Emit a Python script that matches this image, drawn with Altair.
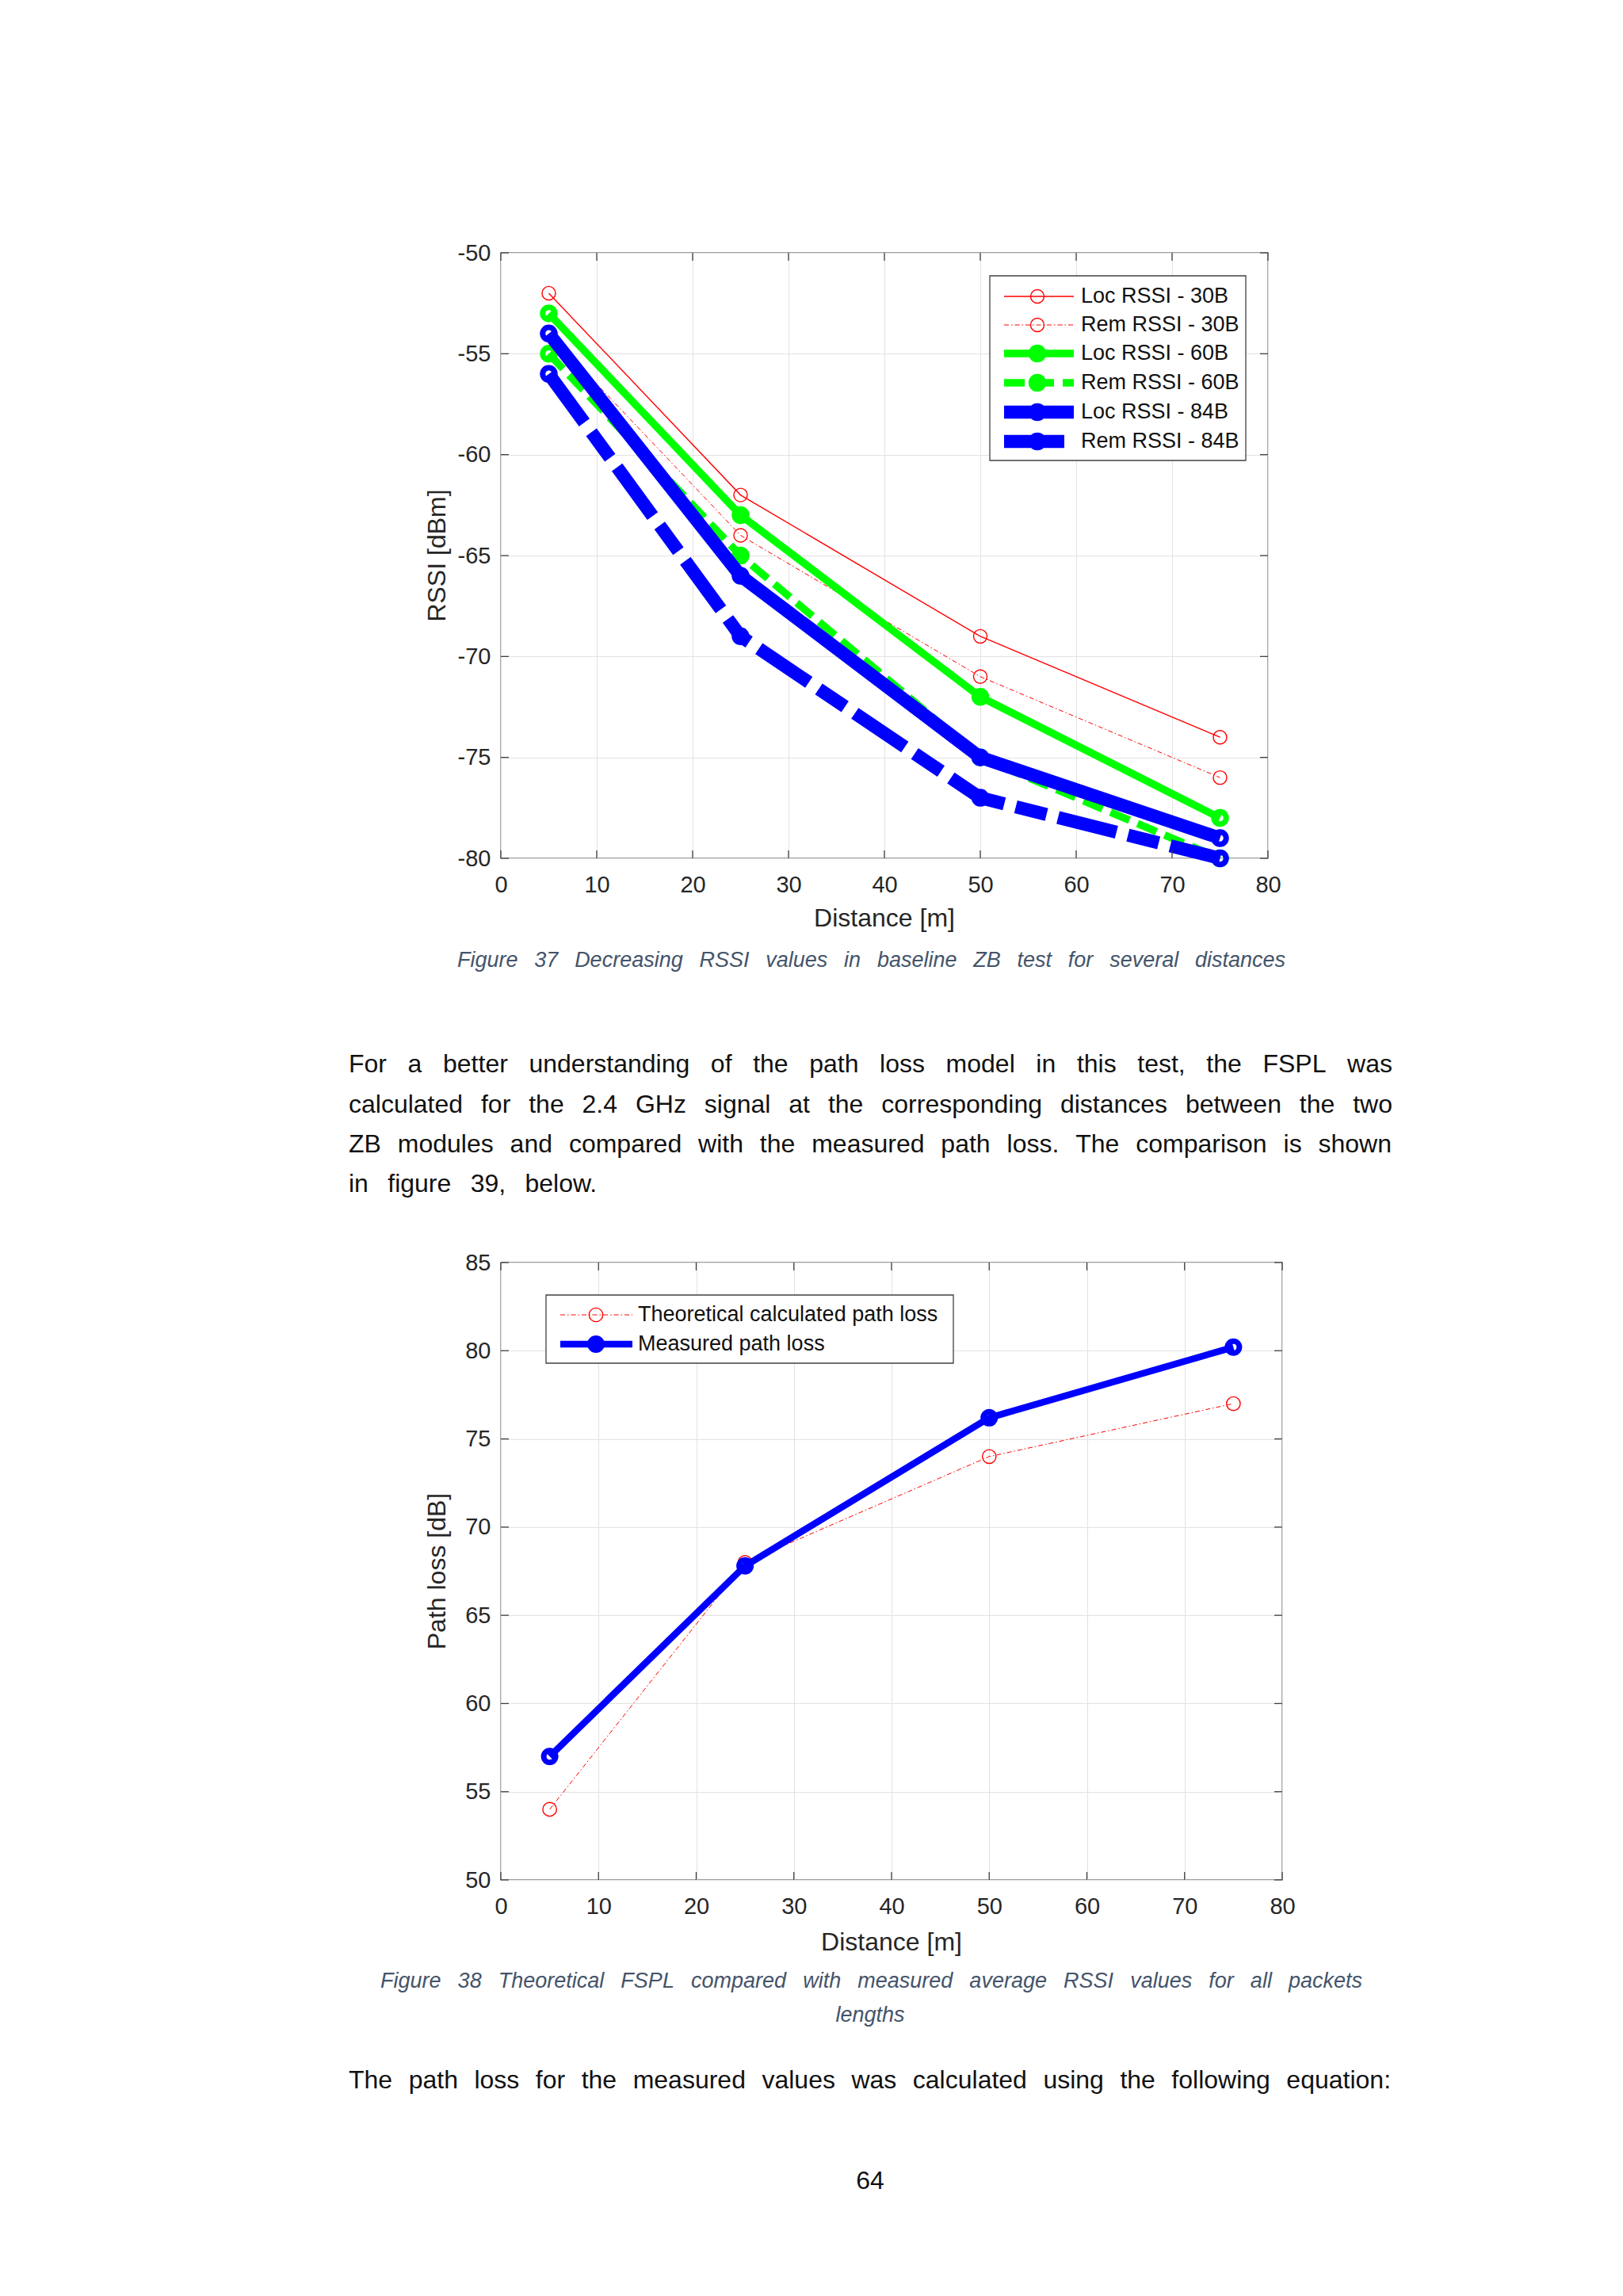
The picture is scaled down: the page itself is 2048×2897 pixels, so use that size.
import altair as alt
import pandas as pd

# ---------------- data ----------------
distance = [5, 25, 50, 75]

loc_rssi_30b = [-52, -62, -69, -74]
rem_rssi_30b = [-54, -64, -71, -76]
loc_rssi_60b = [-53, -63, -72, -78]
rem_rssi_60b = [-55, -65, -75, -80]
loc_rssi_84b = [-54, -66, -75, -79]
rem_rssi_84b = [-56, -69, -77, -80]
rssi_series = [loc_rssi_30b, rem_rssi_30b, loc_rssi_60b, rem_rssi_60b, loc_rssi_84b, rem_rssi_84b]
rssi_labels = ["Loc RSSI - 30B", "Rem RSSI - 30B", "Loc RSSI - 60B",
               "Rem RSSI - 60B", "Loc RSSI - 84B", "Rem RSSI - 84B"]

theoretical_path_loss = [54, 68, 74, 77]
measured_path_loss = [57, 67.8, 76.2, 80.2]
path_loss_series = [theoretical_path_loss, measured_path_loss]
path_loss_labels = ["Theoretical calculated path loss", "Measured path loss"]

x_ticks = [0, 10, 20, 30, 40, 50, 60, 70, 80]
rssi_ticks = [-80, -75, -70, -65, -60, -55, -50]
path_loss_ticks = [50, 55, 60, 65, 70, 75, 80, 85]

x_title = "Distance [m]"
rssi_title = "RSSI [dBm]"
path_loss_title = "Path loss [dB]"
caption_37 = "Figure 37 Decreasing RSSI values in baseline ZB test for several distances"
paragraph_lines = [
    "For a better understanding of the path loss model in this test, the FSPL was",
    "calculated for the 2.4 GHz signal at the corresponding distances between the two",
    "ZB modules and compared with the measured path loss. The comparison is shown",
    "in figure 39, below.",
]
caption_38_lines = [
    "Figure 38 Theoretical FSPL compared with measured average RSSI values for all packets",
    "lengths",
]
equation_intro = "The path loss for the measured values was calculated using the following equation:"
page_number = "64"

# ---------------- styles & layout ----------------
FONT = "Liberation Sans"
AX_TEXT = "#262626"
FRAME = "#404040"
GRID = "#e2e2e2"
BODY = "#111111"
CAPTION = "#44546A"
RED, GREEN, BLUE = "#ff0000", "#00ff00", "#0000ff"
LABEL_FS = 29
TITLE_FS = 32

rssi_styles = [
    dict(color=RED, width=1.4, dash=None, msize=290, mwidth=1.4),
    dict(color=RED, width=1.0, dash=[6, 3, 1.5, 3], msize=290, mwidth=1.4),
    dict(color=GREEN, width=9.5, dash=None, msize=240, mwidth=7.0),
    dict(color=GREEN, width=9.5, dash=[26, 11], msize=240, mwidth=7.0),
    dict(color=BLUE, width=16.5, dash=None, msize=240, mwidth=7.0),
    dict(color=BLUE, width=16.5, dash=[76, 15, 40, 15], msize=240, mwidth=7.0),
]
path_loss_styles = [
    dict(color=RED, width=1.0, dash=[6, 3, 1.5, 3], msize=300, mwidth=1.4),
    dict(color=BLUE, width=8.5, dash=None, msize=225, mwidth=7.0),
]

X0 = 631                      # common plot left (page px)
Y1, W1, H1 = 318, 968, 764    # chart 1 plot top / size
Y2, W2, H2 = 1590, 986, 779   # chart 2 plot top / size
TICK = 10

ARIAL = {' ': 278, ',': 278, '-': 333, '.': 278, ':': 278, '[': 278, ']': 278}
for ch in "0123456789":
    ARIAL[ch] = 556
ARIAL.update(dict(zip("ABCDEFGHIJKLMNOPQRSTUVWXYZ",
                      [667, 667, 722, 722, 667, 611, 778, 722, 278, 500, 667, 556, 833,
                       722, 778, 667, 778, 722, 667, 611, 722, 667, 944, 667, 667, 611])))
ARIAL.update(dict(zip("abcdefghijklmnopqrstuvwxyz",
                      [556, 556, 500, 556, 556, 278, 556, 556, 222, 222, 500, 222, 833,
                       556, 556, 556, 556, 333, 500, 278, 556, 500, 722, 500, 500, 500])))


def word_width(w, fs):
    return sum(ARIAL.get(c, 556) for c in w) * fs / 1000.0


def justify(line, left, right, fs, y, ox, oy):
    words = line.split(" ")
    widths = [word_width(w, fs) for w in words]
    gap = (right - left - sum(widths)) / max(1, len(words) - 1)
    rows, x = [], left
    for w, wd in zip(words, widths):
        rows.append((w, x - ox, y - oy))
        x += wd + gap
    return rows


def text_layer(rows, size, color=BODY, italic=False, align="left",
               baseline="alphabetic", angle=None, opacity=1.0):
    df = pd.DataFrame(rows, columns=["t", "px", "py"])
    kw = dict(font=FONT, fontSize=size, color=color, align=align,
              baseline=baseline, opacity=opacity)
    if italic:
        kw["fontStyle"] = "italic"
    if angle is not None:
        kw["angle"] = angle
    return alt.Chart(df).mark_text(**kw).encode(
        x=alt.X("px:Q", scale=None, axis=None),
        y=alt.Y("py:Q", scale=None, axis=None),
        text="t:N",
    )


def axis(vals, pad):
    return alt.Axis(values=vals, title=None, grid=True, gridColor=GRID, gridWidth=1,
                    ticks=False, domain=False, labelFont=FONT, labelFontSize=LABEL_FS,
                    labelColor=AX_TEXT, labelPadding=pad, labelFlush=False,
                    labelExpr="'' + datum.value")


DUMMY = pd.DataFrame({"k": [0]})


def build_panel(series, styles, labels, ydom, yticks, W, H, legend):
    X = alt.X("d:Q", scale=alt.Scale(domain=[0, 80], nice=False, zero=False),
              axis=axis(x_ticks, 19))
    Y = alt.Y("v:Q", scale=alt.Scale(domain=ydom, nice=False, zero=False),
              axis=axis(yticks, 13))
    layers = []
    for vals, st in zip(series, styles):
        df = pd.DataFrame({"d": distance, "v": vals})
        lkw = dict(color=st["color"], strokeWidth=st["width"])
        if st["dash"]:
            lkw["strokeDash"] = st["dash"]
        layers.append(alt.Chart(df).mark_line(**lkw).encode(x=X, y=Y))
        layers.append(alt.Chart(df).mark_point(
            shape="circle", filled=False, size=st["msize"], strokeWidth=st["mwidth"],
            color=st["color"], opacity=1).encode(x=X, y=Y))
    # inward ticks on all four sides
    xt = pd.DataFrame({"d": x_ticks})
    yt = pd.DataFrame({"v": yticks})
    tk = dict(color=FRAME, strokeWidth=1.3)
    layers.append(alt.Chart(xt).mark_rule(**tk).encode(x=X, y=alt.value(H), y2=alt.value(H - TICK)))
    layers.append(alt.Chart(xt).mark_rule(**tk).encode(x=X, y=alt.value(0), y2=alt.value(TICK)))
    layers.append(alt.Chart(yt).mark_rule(**tk).encode(y=Y, x=alt.value(0), x2=alt.value(TICK)))
    layers.append(alt.Chart(yt).mark_rule(**tk).encode(y=Y, x=alt.value(W), x2=alt.value(W - TICK)))
    # legend box
    L, T, R, B = legend["box"]
    layers.append(alt.Chart(DUMMY).mark_rect(fill="white", stroke=FRAME, strokeWidth=1.3).encode(
        x=alt.value(L), x2=alt.value(R), y=alt.value(T), y2=alt.value(B)))
    x1, x2 = legend["line"]
    for ry, st in zip(legend["rows"], styles):
        rkw = dict(color=st["color"], strokeWidth=st["width"])
        if st["dash"]:
            rkw["strokeDash"] = st["dash"]
        layers.append(alt.Chart(DUMMY).mark_rule(**rkw).encode(
            x=alt.value(x1), x2=alt.value(x2), y=alt.value(ry)))
        layers.append(alt.Chart(DUMMY).mark_point(
            shape="circle", filled=False, size=st["msize"], strokeWidth=st["mwidth"],
            color=st["color"], opacity=1).encode(x=alt.value(legend["marker"]), y=alt.value(ry)))
    layers.append(text_layer([(lab, legend["text"], ry) for lab, ry in zip(labels, legend["rows"])],
                             27, color="#111111", baseline="middle"))
    return layers


# ---------------- chart 1 ----------------
ref1x = 635
leg1 = dict(box=(1252 - ref1x, 347 - Y1, 1575 - ref1x, 580 - Y1),
            rows=[r - Y1 for r in [373, 409, 445, 482, 519, 556]],
            line=(1270 - ref1x, 1358 - ref1x), marker=1312 - ref1x, text=1367 - ref1x)
layers1 = build_panel(rssi_series, rssi_styles, rssi_labels, [-80, -50], rssi_ticks, W1, H1, leg1)
layers1.append(text_layer([(x_title, W1 / 2, 1168 - Y1)], TITLE_FS, color=AX_TEXT, align="center"))
layers1.append(text_layer([(rssi_title, 551 - X0, H1 / 2)], TITLE_FS, color=AX_TEXT, align="center",
                          baseline="middle", angle=270))
layers1.append(text_layer(justify(caption_37, 576, 1621, 27, 1219, X0, Y1), 27,
                          color=CAPTION, italic=True))
para_rows = []
for line, base, right in zip(paragraph_lines, [1352, 1403, 1453, 1503], [1756, 1756, 1755, 754]):
    para_rows += justify(line, 439, right, 32, base, X0, Y1)
layers1.append(text_layer(para_rows, 32))
# invisible anchors fixing the page position of the panel
layers1.append(text_layer([(".", 8 - X0, 8 - Y1)], 10, baseline="top", opacity=0))
layers1.append(text_layer([(".", 8 - X0, 1540 - Y1)], 10, baseline="bottom", opacity=0))
chart1 = alt.layer(*layers1).properties(width=W1, height=H1)

# ---------------- chart 2 ----------------
ref2x = 627
leg2 = dict(box=(684 - ref2x, 1631 - Y2, 1198 - ref2x, 1717 - Y2),
            rows=[1656 - Y2, 1693 - Y2],
            line=(702 - ref2x, 793 - ref2x), marker=747 - ref2x, text=800 - ref2x)
layers2 = build_panel(path_loss_series, path_loss_styles, path_loss_labels, [50, 85],
                      path_loss_ticks, W2, H2, leg2)
layers2.append(text_layer([(x_title, W2 / 2, 2458 - Y2)], TITLE_FS, color=AX_TEXT, align="center"))
layers2.append(text_layer([(path_loss_title, 551 - X0, H2 / 2)], TITLE_FS, color=AX_TEXT,
                          align="center", baseline="middle", angle=270))
layers2.append(text_layer(justify(caption_38_lines[0], 479, 1718, 27, 2505, X0, Y2), 27,
                          color=CAPTION, italic=True))
layers2.append(text_layer([(caption_38_lines[1], 1097 - X0, 2548 - Y2)], 27, color=CAPTION,
                          italic=True, align="center"))
layers2.append(text_layer(justify(equation_intro, 439, 1754, 32, 2632, X0, Y2), 32))
layers2.append(text_layer([(page_number, 1097 - X0, 2759 - Y2)], 32, align="center"))
layers2.append(text_layer([(".", 8 - X0, 1540 - Y2)], 10, baseline="top", opacity=0))
chart2 = alt.layer(*layers2).properties(width=W2, height=H2)

page = alt.vconcat(chart1, chart2, spacing=0).properties(
    padding=0, background="white"
).configure_view(stroke=FRAME, strokeWidth=1.3)

page.save("out.html", embed_options={"renderer": "svg", "actions": False})
